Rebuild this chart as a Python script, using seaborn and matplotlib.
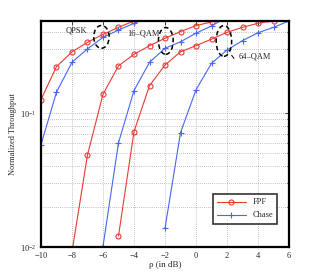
import numpy as np
import pandas as pd
import seaborn as sns
import matplotlib.pyplot as plt
from matplotlib.patches import Ellipse
from matplotlib.lines import Line2D

# data (rho in dB, normalized throughput)
qpsk_fpf_x = [-10, -9, -8, -7, -6, -5, -4]
qpsk_fpf_y = [0.126, 0.222, 0.286, 0.337, 0.386, 0.436, 0.486]
qpsk_chase_x = [-10, -9, -8, -7, -6, -5, -4, -3]
qpsk_chase_y = [0.058, 0.143, 0.239, 0.301, 0.367, 0.416, 0.467, 0.52]

qam16_fpf_x = [-8, -7, -6, -5, -4, -3, -2, -1, 0, 1, 2]
qam16_fpf_y = [0.0092, 0.0487, 0.138, 0.225, 0.274, 0.318, 0.361, 0.405, 0.449, 0.478, 0.52]
qam16_chase_x = [-6, -5, -4, -3, -2, -1, 0, 1, 2]
qam16_chase_y = [0.0101, 0.060, 0.147, 0.239, 0.304, 0.340, 0.394, 0.446, 0.52]

qam64_fpf_x = [-5, -4, -3, -2, -1, 0, 1, 2, 3, 4, 5]
qam64_fpf_y = [0.0121, 0.0726, 0.160, 0.228, 0.286, 0.318, 0.356, 0.400, 0.436, 0.467, 0.486]
qam64_chase_x = [-2, -1, 0, 1, 2, 3, 4, 5, 6]
qam64_chase_y = [0.0138, 0.0713, 0.149, 0.235, 0.295, 0.347, 0.397, 0.436, 0.486]

red = '#e83a34'
blue = '#4866f2'

sns.set_theme(style='white')
plt.rcParams['font.family'] = ['Liberation Serif', 'DejaVu Serif']
plt.rcParams['mathtext.fontset'] = 'stix'

fig = plt.figure(figsize=(3.19, 2.78), dpi=100)
ax = fig.add_axes([0.1285, 0.1115, 0.7775, 0.813])

curves = [
    (qpsk_fpf_x, qpsk_fpf_y, red, 'o'),
    (qpsk_chase_x, qpsk_chase_y, blue, '+'),
    (qam16_fpf_x, qam16_fpf_y, red, 'o'),
    (qam16_chase_x, qam16_chase_y, blue, '+'),
    (qam64_fpf_x, qam64_fpf_y, red, 'o'),
    (qam64_chase_x, qam64_chase_y, blue, '+'),
]
for xs, ys, col, mk in curves:
    df = pd.DataFrame({'rho': xs, 'thr': ys})
    if mk == 'o':
        sns.lineplot(data=df, x='rho', y='thr', ax=ax, color=col, linewidth=0.8,
                     marker='o', markersize=3.6, markerfacecolor='none',
                     markeredgecolor=col, markeredgewidth=0.8)
    else:
        sns.lineplot(data=df, x='rho', y='thr', ax=ax, color=col, linewidth=0.8,
                     marker='+', markersize=4.5, markeredgecolor=col, markeredgewidth=0.8)

ax.set_yscale('log')
ax.set_xlim(-10, 6)
ax.set_ylim(0.01, 0.486)
ax.set_xticks(np.arange(-10, 7, 2))
ax.set_xticklabels([str(v).replace('-', '\u2212') for v in range(-10, 7, 2)])
ax.set_yticks([0.01, 0.1])
ax.grid(True, which='major', axis='x', linestyle=(0, (1, 2)), color='#8a8a8a', linewidth=0.5)
ax.grid(True, which='both', axis='y', linestyle=(0, (1, 2)), color='#8a8a8a', linewidth=0.5)
ax.tick_params(which='both', direction='in', labelsize=6, length=3, width=0.6, top=True, right=True)
ax.tick_params(which='minor', length=1.5)
for s in ax.spines.values():
    s.set_linewidth(1.6)
    s.set_color('black')

ax.set_xlabel('\u03c1 (in dB)', fontsize=6.5, labelpad=1)
ax.set_ylabel('Normalized Throughput', fontsize=6, labelpad=2)

# dashed ellipses drawn on an overlay axis in log10 units so they stay round
ax_e = fig.add_axes(ax.get_position(), frameon=False)
ax_e.set_xlim(-10, 6)
ax_e.set_ylim(np.log10(0.01), np.log10(0.486))
ax_e.set_xticks([])
ax_e.set_yticks([])
for cx, cy, w, h in [(-6.1, 0.37, 1.0, 0.17), (-1.95, 0.345, 0.95, 0.2), (1.8, 0.345, 1.0, 0.23)]:
    ax_e.add_patch(Ellipse((cx, np.log10(cy)), w, h, fill=False, linestyle=(0, (3, 2)),
                           linewidth=1.1, color='black'))
ax_e.plot([2.3, 2.45], [np.log10(0.27), np.log10(0.255)], color='black', linewidth=0.7)

ax.text(-7.7, 0.416, 'QPSK', fontsize=6, ha='center', va='center')
ax.text(-3.4, 0.389, '16\u2013QAM', fontsize=6, ha='center', va='center')
ax.text(3.8, 0.262, '64\u2013QAM', fontsize=6, ha='center', va='center')

handles = [
    Line2D([], [], color=red, linewidth=0.8, marker='o', markersize=3.6,
           markerfacecolor='none', markeredgewidth=0.8),
    Line2D([], [], color=blue, linewidth=0.8, marker='+', markersize=4.5, markeredgewidth=0.8),
]
leg = ax.legend(handles, ['FPF', 'Chase'], loc='lower right', bbox_to_anchor=(0.97, 0.085),
                fontsize=6, frameon=True, fancybox=False, handlelength=3.5,
                borderpad=0.5, labelspacing=0.6, edgecolor='black')
leg.get_frame().set_linewidth(1.2)

fig.savefig('out.png', dpi=100)
